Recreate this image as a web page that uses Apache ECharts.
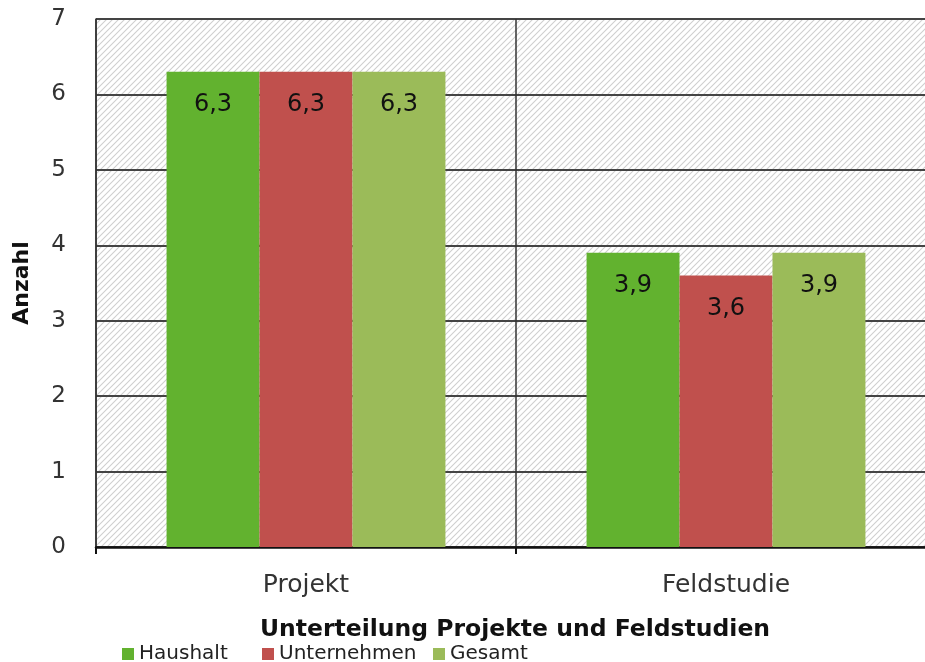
<!DOCTYPE html>
<html>
<head>
    <meta charset="utf-8">
    <title>Unterteilung Projekte und Feldstudien</title>
    <script src="https://cdn.jsdelivr.net/npm/echarts@6/dist/echarts.min.js"></script>
    <style>
        html, body { margin: 0; padding: 0; background: #fff; overflow: hidden; }
    </style>
</head>
<body>
<!-- etwas breiter als das Fenster: rechter Rand des Diagramms liegt außerhalb -->
<div id="main" style="width: 936px;height:662px;"></div>
<script type="text/javascript">
    // Daten
    var categories = ['Projekt', 'Feldstudie'];
    var seriesNames = ['Haushalt', 'Unternehmen', 'Gesamt'];
    var haushalt = [6.3, 3.9];
    var unternehmen = [6.3, 3.6];
    var gesamt = [6.3, 3.9];
    var yTicks = [0, 1, 2, 3, 4, 5, 6, 7];

    // schraffierter Hintergrund
    function hatch() {
        var c = document.createElement('canvas');
        c.width = 6; c.height = 6;
        var ctx = c.getContext('2d');
        ctx.fillStyle = '#ffffff';
        ctx.fillRect(0, 0, 6, 6);
        ctx.strokeStyle = '#cfcfcf';
        ctx.lineWidth = 1.1;
        ctx.beginPath();
        ctx.moveTo(0, 6); ctx.lineTo(6, 0);
        ctx.moveTo(-3, 3); ctx.lineTo(3, -3);
        ctx.moveTo(3, 9); ctx.lineTo(9, 3);
        ctx.stroke();
        return c;
    }

    var font = 'DejaVu Sans';
    var myChart = echarts.init(document.getElementById('main'));

    function label() {
        return {
            show: true,
            position: 'insideTop',
            distance: 21,
            color: '#111',
            fontSize: 24,
            fontFamily: font,
            formatter: function (p) { return String(p.value).replace('.', ','); }
        };
    }

    // Legendeneinträge in festen Abständen wie im Original
    var legendLeft = [122, 262, 433];
    var legends = seriesNames.map(function (n, i) {
        return {
            left: legendLeft[i],
            top: 644,
            padding: 0,
            itemWidth: 12,
            itemHeight: 12,
            itemGap: 4,
            icon: 'rect',
            textStyle: { fontSize: 20, color: '#222', fontFamily: font },
            data: [n]
        };
    });

    var option = {
        animation: false,
        title: {
            text: 'Unterteilung Projekte und Feldstudien',
            left: 510,
            textAlign: 'center',
            top: 613,
            textStyle: { fontSize: 23.5, fontWeight: 'bold', color: '#111', fontFamily: font }
        },
        legend: legends,
        grid: {
            left: 96,
            right: 0,
            top: 19,
            bottom: 115,
            show: true,
            borderWidth: 0,
            backgroundColor: { image: hatch(), repeat: 'repeat' }
        },
        xAxis: {
            type: 'category',
            data: categories,
            axisLine: { lineStyle: { color: '#111', width: 2.5 } },
            axisTick: { show: true, length: 7, lineStyle: { color: '#111', width: 2 } },
            axisLabel: { fontSize: 25, color: '#333', margin: 26, fontFamily: font },
            splitLine: { show: true, lineStyle: { color: '#333', width: 1.5 } }
        },
        yAxis: {
            type: 'value',
            min: 0,
            max: 7,
            interval: 1,
            name: 'Anzahl',
            nameLocation: 'middle',
            nameGap: 63,
            nameTextStyle: { fontSize: 22, fontWeight: 'bold', color: '#111', fontFamily: font },
            axisLine: { show: true, lineStyle: { color: '#333', width: 1.5 } },
            axisTick: { show: false },
            axisLabel: {
                fontSize: 23, color: '#333', margin: 30, fontFamily: font,
                formatter: function (v) { return yTicks.indexOf(v) >= 0 ? String(v) : ''; }
            },
            splitLine: { show: true, lineStyle: { color: '#444', width: 2 } }
        },
        series: [
            { name: seriesNames[0], type: 'bar', data: haushalt, itemStyle: { color: '#62b22f' },
              barGap: '0%', barCategoryGap: '33.6%', label: label() },
            { name: seriesNames[1], type: 'bar', data: unternehmen, itemStyle: { color: '#c0504d' },
              label: label() },
            { name: seriesNames[2], type: 'bar', data: gesamt, itemStyle: { color: '#9bbb59' },
              label: label() }
        ]
    };

    myChart.setOption(option);
</script>
</body>
</html>
